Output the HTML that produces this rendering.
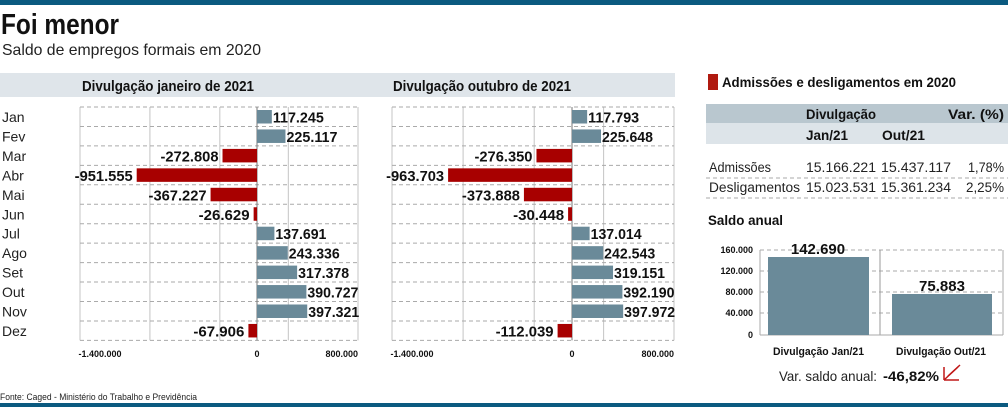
<!DOCTYPE html>
<html><head><meta charset="utf-8">
<style>
html,body{margin:0;padding:0;background:#fff;}
svg{display:block;font-family:"Liberation Sans",sans-serif;}
</style></head>
<body>
<svg id="s" width="1008" height="407" viewBox="0 0 1008 407" xmlns="http://www.w3.org/2000/svg">
<rect x="0" y="0" width="1008" height="5" fill="#0b5a80"/>
<rect x="0" y="403" width="1008" height="4" fill="#0b5a80"/>
<text x="1" y="34" font-size="29" font-weight="bold" fill="#111" textLength="118" lengthAdjust="spacingAndGlyphs">Foi menor</text>
<text x="2" y="55" font-size="16" fill="#222" textLength="259" lengthAdjust="spacingAndGlyphs">Saldo de empregos formais em 2020</text>
<rect x="0" y="73" width="675" height="24" fill="#dfe5ea"/>
<text x="82" y="91" font-size="14.5" font-weight="bold" fill="#111" textLength="172" lengthAdjust="spacingAndGlyphs">Divulgação janeiro de 2021</text>
<text x="393" y="91" font-size="14.5" font-weight="bold" fill="#111" textLength="178" lengthAdjust="spacingAndGlyphs">Divulgação outubro de 2021</text>
<g id="c"></g>
<text x="0" y="400" font-size="9" fill="#222" textLength="197" lengthAdjust="spacingAndGlyphs">Fonte: Caged - Ministério do Trabalho e Previdência</text>

<rect x="708" y="74" width="10" height="16" fill="#b01a10"/>
<text x="722" y="87" font-size="14" font-weight="bold" fill="#111" textLength="234" lengthAdjust="spacingAndGlyphs">Admissões e desligamentos em 2020</text>
<rect x="706" y="104" width="302" height="19" fill="#b9c7cf"/>
<rect x="706" y="123" width="302" height="21" fill="#dde4e9"/>
<text x="806" y="119" font-size="14" font-weight="bold" fill="#111" textLength="70" lengthAdjust="spacingAndGlyphs">Divulgação</text>
<text x="948" y="119" font-size="14" font-weight="bold" fill="#111" textLength="56" lengthAdjust="spacingAndGlyphs">Var. (%)</text>
<text x="806" y="140" font-size="14" font-weight="bold" fill="#111" textLength="42" lengthAdjust="spacingAndGlyphs">Jan/21</text>
<text x="882" y="140" font-size="14" font-weight="bold" fill="#111" textLength="43" lengthAdjust="spacingAndGlyphs">Out/21</text>
<g font-size="13.5" fill="#222">
<text x="709" y="172" textLength="62" lengthAdjust="spacingAndGlyphs">Admissões</text><text x="806" y="172" textLength="70" lengthAdjust="spacingAndGlyphs">15.166.221</text><text x="881" y="172" textLength="70" lengthAdjust="spacingAndGlyphs">15.437.117</text><text x="968" y="172" textLength="36" lengthAdjust="spacingAndGlyphs">1,78%</text>
<text x="709" y="192" textLength="91" lengthAdjust="spacingAndGlyphs">Desligamentos</text><text x="806" y="192" textLength="70" lengthAdjust="spacingAndGlyphs">15.023.531</text><text x="881" y="192" textLength="70" lengthAdjust="spacingAndGlyphs">15.361.234</text><text x="966" y="192" textLength="38" lengthAdjust="spacingAndGlyphs">2,25%</text>
</g>
<line x1="706" y1="178" x2="1008" y2="178" stroke="#aaa" stroke-dasharray="4,3"/>
<line x1="706" y1="198" x2="1008" y2="198" stroke="#aaa" stroke-dasharray="4,3"/>
<text x="708" y="225" font-size="14" font-weight="bold" fill="#111" textLength="75" lengthAdjust="spacingAndGlyphs">Saldo anual</text>
<g stroke="#aaa" stroke-dasharray="4,3">
<line x1="760" y1="250" x2="1003" y2="250"/><line x1="760" y1="271" x2="1003" y2="271"/>
<line x1="760" y1="292" x2="1003" y2="292"/><line x1="760" y1="313" x2="1003" y2="313"/>
</g>
<line x1="760" y1="250" x2="760" y2="335" stroke="#aaa"/>
<line x1="1003" y1="250" x2="1003" y2="335" stroke="#aaa"/>
<line x1="880" y1="250" x2="880" y2="335" stroke="#999"/>
<line x1="760" y1="335" x2="1003" y2="335" stroke="#aaa"/>
<rect x="768" y="257" width="101" height="78" fill="#6a8a99"/>
<rect x="892" y="294" width="100" height="41" fill="#6a8a99"/>
<g font-size="9" font-weight="bold" fill="#111" text-anchor="end">
<text x="753" y="253">160.000</text><text x="753" y="274">120.000</text><text x="753" y="295">80.000</text><text x="753" y="316">40.000</text><text x="753" y="338">0</text>
</g>
<text x="818" y="254" font-size="15" font-weight="bold" fill="#111" text-anchor="middle">142.690</text>
<text x="942" y="291" font-size="15" font-weight="bold" fill="#111" text-anchor="middle">75.883</text>
<text x="773" y="355" font-size="11" font-weight="bold" fill="#111" textLength="91" lengthAdjust="spacingAndGlyphs">Divulgação Jan/21</text>
<text x="896" y="355" font-size="11" font-weight="bold" fill="#111" textLength="90" lengthAdjust="spacingAndGlyphs">Divulgação Out/21</text>
<text x="779" y="381" font-size="14" fill="#222" textLength="98" lengthAdjust="spacingAndGlyphs">Var. saldo anual:</text>
<text x="883" y="381" font-size="14" font-weight="bold" fill="#111" textLength="56" lengthAdjust="spacingAndGlyphs">-46,82%</text>
<g stroke="#c01818" stroke-width="1.5" fill="none">
<line x1="959" y1="380" x2="944" y2="380"/><line x1="944" y1="380" x2="944" y2="367"/><line x1="944" y1="380" x2="958" y2="367"/><line x1="948" y1="376" x2="960" y2="365"/>
</g>
</svg>
<script>
(function(){
var g=document.getElementById('c'),h='';
var months=['Jan','Fev','Mar','Abr','Mai','Jun','Jul','Ago','Set','Out','Nov','Dez'];
var d1=[117245,225117,-272808,-951555,-367227,-26629,137691,243336,317378,390727,397321,-67906];
var d2=[117793,225648,-276350,-963703,-373888,-30448,137014,242543,319151,392190,397972,-112039];
function fmt(v){var s=Math.abs(v).toString().replace(/\B(?=(\d{3})+(?!\d))/g,'.');return (v<0?'-':'')+s;}
var T=107,rh=19.45;
for(var i=0;i<12;i++){h+='<text x="2" y="'+(T+rh*i+15)+'" font-size="14" fill="#222">'+months[i]+'</text>';}
function chart(L,Z,R,data){
  var sc=(Z-L)/1.4e6, bot=T+rh*12;
  var gx=[L,L+(Z-L)*0.395,L+(Z-L)*0.79,Z+(R-Z)*0.31,R];
  gx.forEach(function(x){h+='<line x1="'+x+'" y1="'+T+'" x2="'+x+'" y2="'+bot+'" stroke="#c4c4c4"/>';});
  for(var i=0;i<=12;i++){var y=T+rh*i;h+='<line x1="'+L+'" y1="'+y+'" x2="'+R+'" y2="'+y+'" stroke="#aaa" stroke-dasharray="4,3"/>';}
  h+='<line x1="'+Z+'" y1="'+T+'" x2="'+Z+'" y2="'+bot+'" stroke="#777"/>';
  data.forEach(function(v,i){
    var w=Math.abs(v)*sc,y=T+rh*i+3,ty=T+rh*i+15.5,s=fmt(v),tl=Math.round(s.length*7.3);
    if(v>0){h+='<rect x="'+Z+'" y="'+y+'" width="'+w+'" height="13.5" fill="#6a8a99"/>';
      h+='<text x="'+(Z+w+1)+'" y="'+ty+'" font-size="14.5" font-weight="bold" fill="#111" textLength="'+tl+'" lengthAdjust="spacingAndGlyphs">'+s+'</text>';}
    else{
      h+='<rect x="'+(Z-w)+'" y="'+y+'" width="'+w+'" height="13.5" fill="#a80000"/>';
      h+='<text x="'+(Z-w-4-tl)+'" y="'+ty+'" font-size="14.5" font-weight="bold" fill="#111" textLength="'+tl+'" lengthAdjust="spacingAndGlyphs">'+s+'</text>';}
  });
  h+='<text x="'+(L+20)+'" y="357" font-size="9" font-weight="bold" fill="#111" text-anchor="middle">-1.400.000</text>';
  h+='<text x="'+Z+'" y="357" font-size="9" font-weight="bold" fill="#111" text-anchor="middle">0</text>';
  h+='<text x="'+R+'" y="357" font-size="9" font-weight="bold" fill="#111" text-anchor="end">800.000</text>';
}
chart(80,257,358,d1);
chart(392,572,674,d2);
g.innerHTML=h;
})();
</script>
</body></html>
